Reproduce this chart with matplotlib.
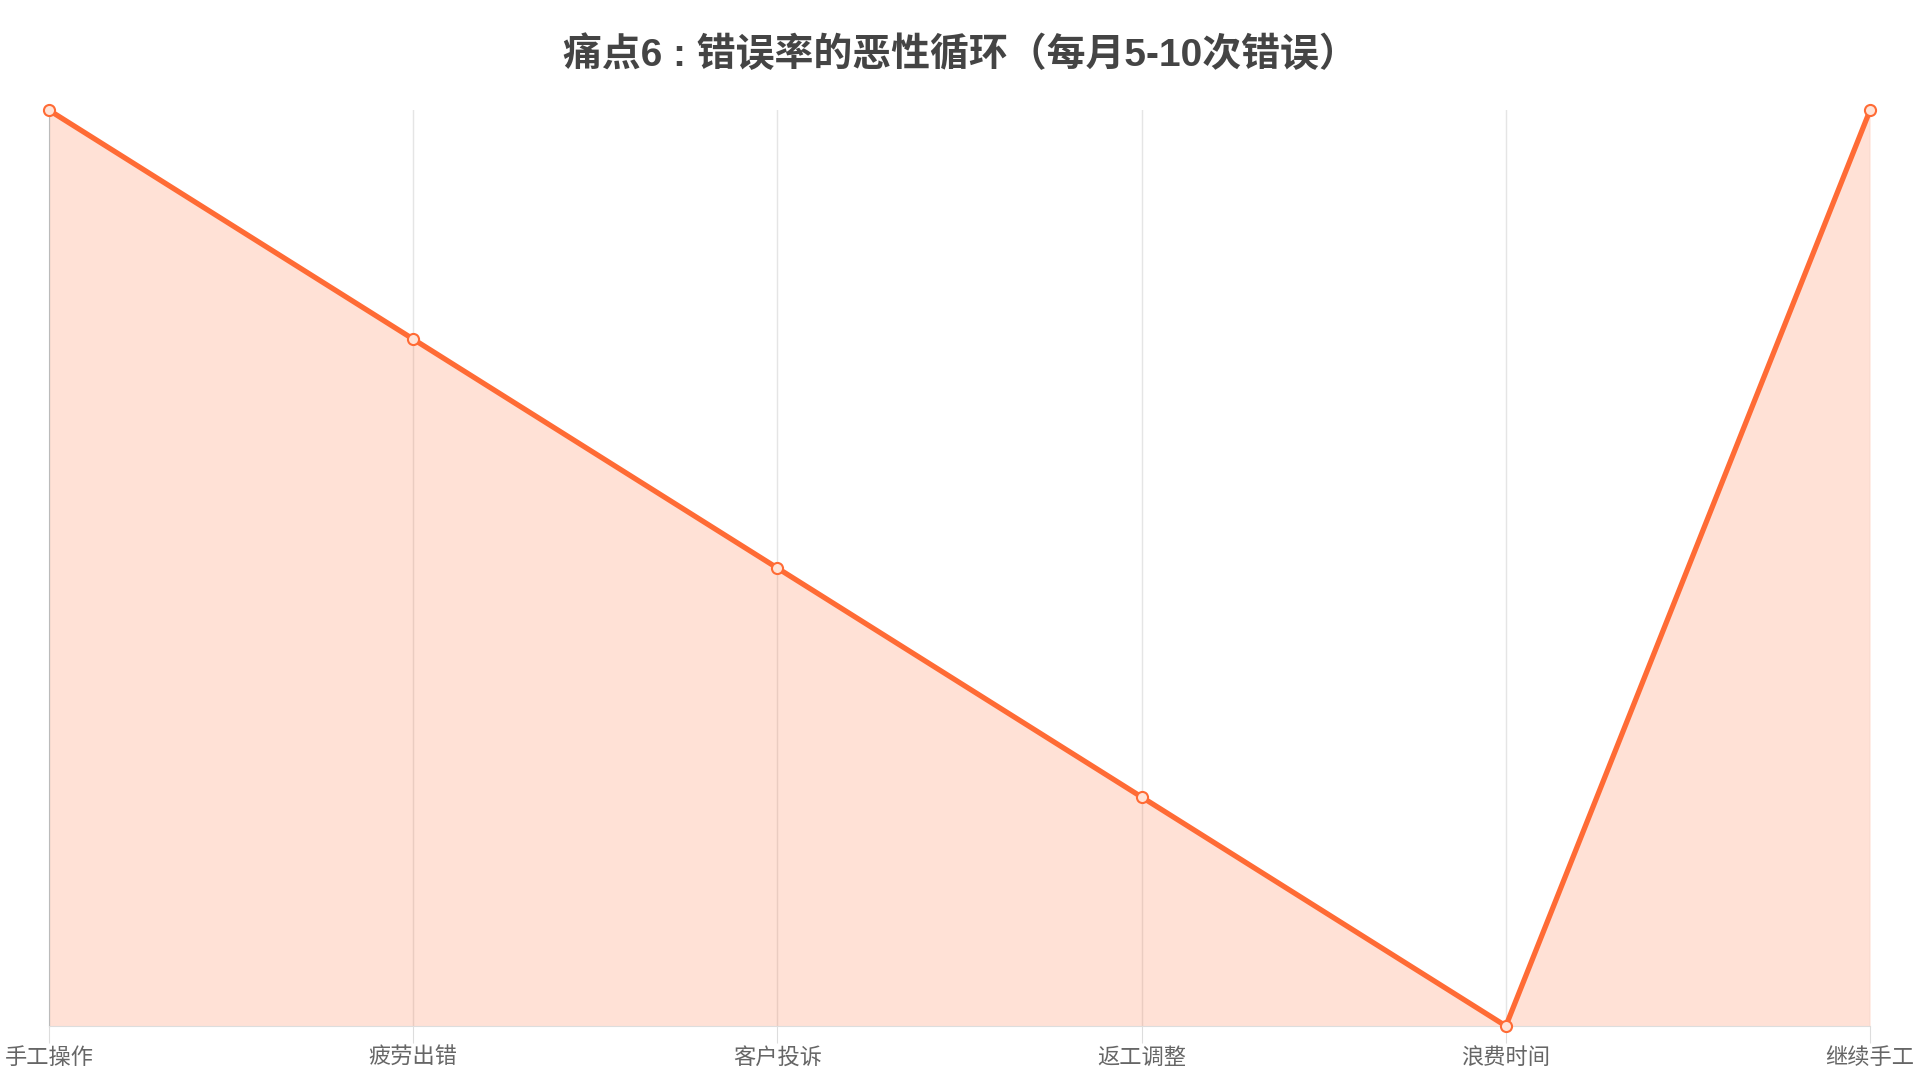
import matplotlib
matplotlib.use("Agg")
import matplotlib.pyplot as plt

plt.rcParams["font.family"] = ["Liberation Sans", "Noto Sans CJK SC", "DejaVu Sans"]

steps = ["手工操作", "疲劳出错", "客户投诉", "返工调整", "浪费时间", "继续手工"]
values = [100, 75, 50, 25, 0, 100]

LINE = "#FF6B35"

fig = plt.figure(figsize=(19.2, 10.8), dpi=100)
ax = fig.add_axes([0.0255, 0.05, 0.9485, 0.848])

x = list(range(len(steps)))
ax.fill_between(x, values, 0, color=LINE, alpha=0.2, linewidth=0)
ax.plot(x, values, color=LINE, linewidth=3.8, marker="o", markersize=8,
        markerfacecolor="#FFE3D7", markeredgecolor=LINE, markeredgewidth=1.5, zorder=3,
        clip_on=False)

ax.set_xlim(0, len(steps) - 1)
ax.set_ylim(0, 100)
ax.set_xticks(x)
ax.set_xticklabels(steps, fontsize=16, color="#666666")
ax.set_yticks([])
ax.tick_params(axis="x", length=12, color="#dddddd", pad=4)
ax.grid(axis="x", color="#e5e5e5", linewidth=1)
ax.set_axisbelow(True)

for side in ["top", "right"]:
    ax.spines[side].set_visible(False)
ax.spines["left"].set_color("#bbbbbb")
ax.spines["bottom"].set_color("#dddddd")

fig.suptitle("痛点6 : 错误率的恶性循环（每月5-10次错误）", y=0.949, va="center",
             fontsize=28, fontweight="bold", color="#444444")

fig.savefig("out.png", dpi=100)
